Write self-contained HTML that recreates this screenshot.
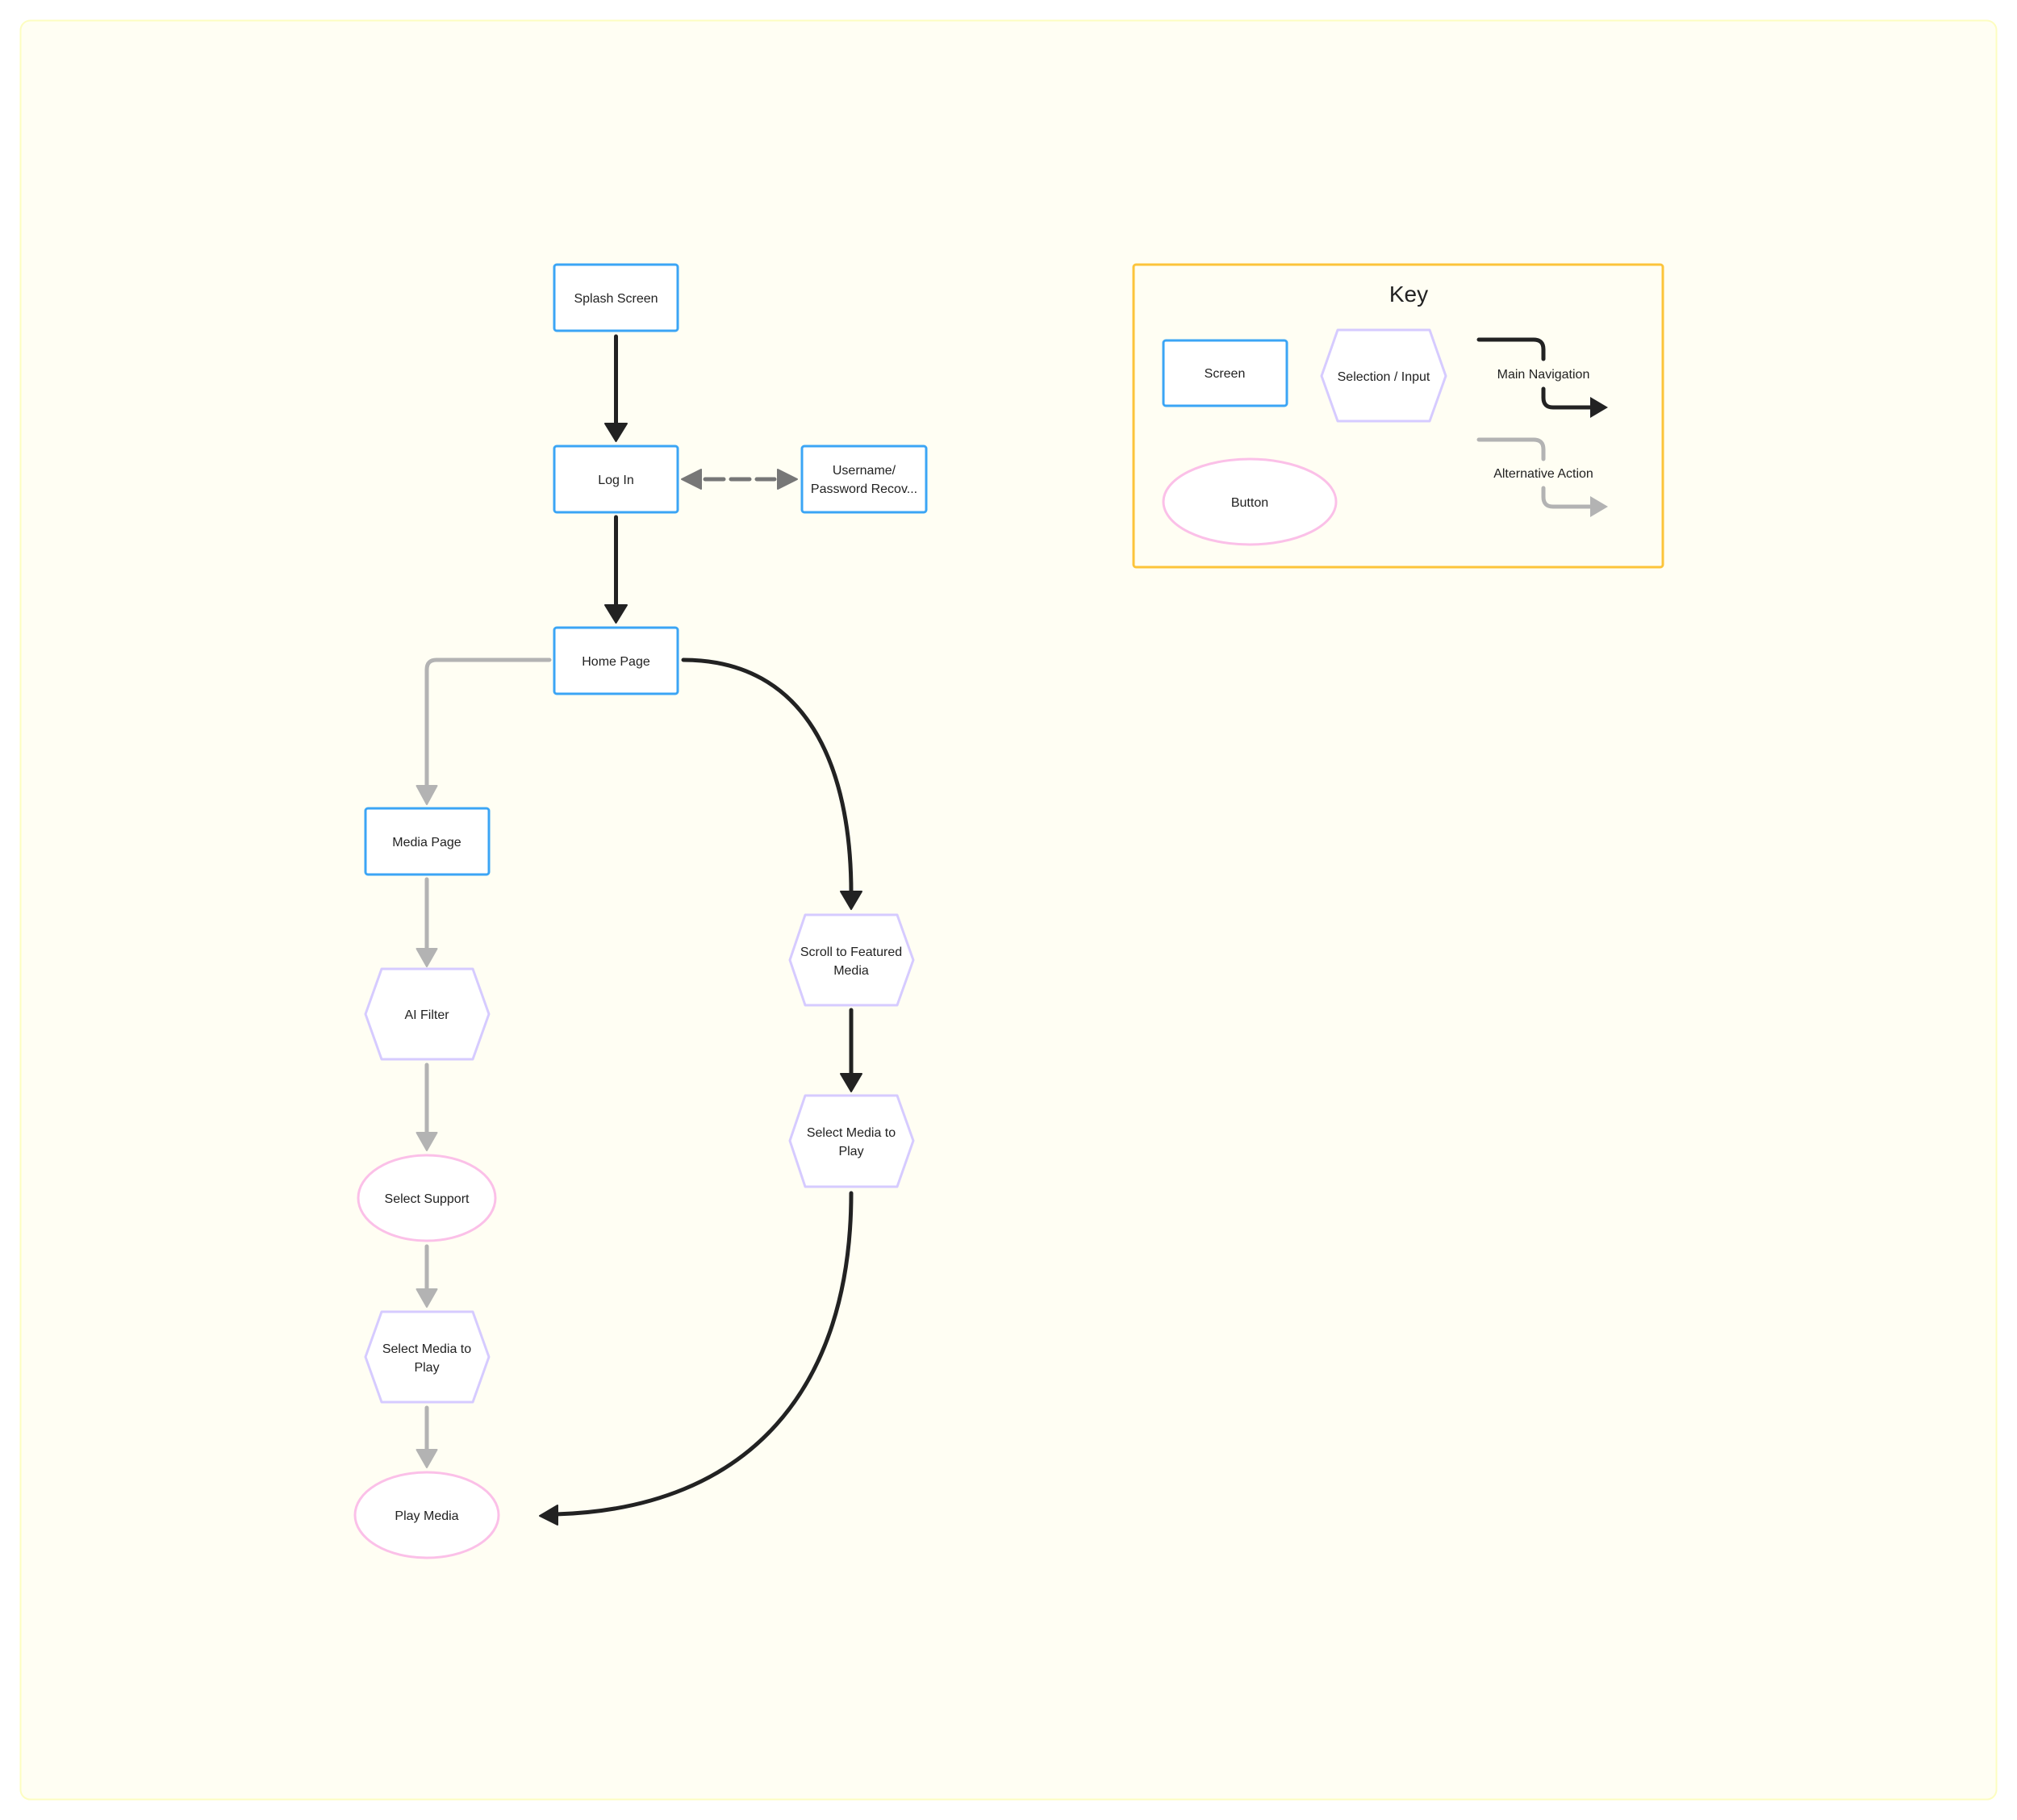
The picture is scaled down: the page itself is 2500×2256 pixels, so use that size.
<!DOCTYPE html>
<html><head><meta charset="utf-8"><style>
html,body{margin:0;padding:0;background:#fff;}
svg{display:block;}
text{font-family:"Liberation Sans",sans-serif;fill:#222;}
</style></head><body>
<svg width="2500" height="2256" viewBox="0 0 2500 2256" xmlns="http://www.w3.org/2000/svg">
<rect x="25.5" y="25.5" width="2449" height="2205" rx="12" fill="#fffef3" stroke="#fdfdc0" stroke-width="2"/>

<!-- Connectors -->
<g fill="none" stroke-linecap="round" stroke-linejoin="round">
  <line x1="763.5" y1="417" x2="763.5" y2="528" stroke="#222" stroke-width="5"/>
  <line x1="763.5" y1="641" x2="763.5" y2="752" stroke="#222" stroke-width="5"/>
  <line x1="874" y1="594" x2="960" y2="594" stroke="#777" stroke-width="5" stroke-dasharray="23 9"/>
  <path d="M681 818 L541 818 Q529 818 529 830 L529 976" stroke="#b3b3b3" stroke-width="5"/>
  <path d="M847 818 C1000 818 1055 950 1055 1107" stroke="#222" stroke-width="5"/>
  <line x1="529" y1="1090" x2="529" y2="1178" stroke="#b3b3b3" stroke-width="5"/>
  <line x1="529" y1="1320" x2="529" y2="1406" stroke="#b3b3b3" stroke-width="5"/>
  <line x1="529" y1="1545" x2="529" y2="1600" stroke="#b3b3b3" stroke-width="5"/>
  <line x1="529" y1="1745" x2="529" y2="1799" stroke="#b3b3b3" stroke-width="5"/>
  <line x1="1055" y1="1252" x2="1055" y2="1333" stroke="#222" stroke-width="5"/>
  <path d="M1055 1479 C1055 1720 930 1870 689 1877" stroke="#222" stroke-width="5"/>
</g>
<!-- Arrowheads -->
<g stroke-linejoin="round" stroke-width="2">
  <polygon points="750,525 777,525 763.5,547" fill="#222" stroke="#222"/>
  <polygon points="750,750 777,750 763.5,772" fill="#222" stroke="#222"/>
  <polygon points="869,582 869,606 845,594" fill="#777" stroke="#777"/>
  <polygon points="964,582 964,606 988,594" fill="#777" stroke="#777"/>
  <polygon points="516.5,974 541.5,974 529,997" fill="#b3b3b3" stroke="#b3b3b3"/>
  <polygon points="1042,1105 1068,1105 1055,1127" fill="#222" stroke="#222"/>
  <polygon points="516.5,1176 541.5,1176 529,1198" fill="#b3b3b3" stroke="#b3b3b3"/>
  <polygon points="516.5,1404 541.5,1404 529,1426" fill="#b3b3b3" stroke="#b3b3b3"/>
  <polygon points="516.5,1598 541.5,1598 529,1620" fill="#b3b3b3" stroke="#b3b3b3"/>
  <polygon points="516.5,1797 541.5,1797 529,1819" fill="#b3b3b3" stroke="#b3b3b3"/>
  <polygon points="1042,1331 1068,1331 1055,1353" fill="#222" stroke="#222"/>
  <polygon points="691,1866 691,1890 669,1879" fill="#222" stroke="#222"/>
</g>

<!-- Screens -->
<g fill="#fff" stroke="#3ba5f5" stroke-width="3">
  <rect x="687" y="328" width="153" height="82" rx="3"/>
  <rect x="687" y="553" width="153" height="82" rx="3"/>
  <rect x="994" y="553" width="154" height="82" rx="3"/>
  <rect x="687" y="778" width="153" height="82" rx="3"/>
  <rect x="453" y="1002" width="153" height="82" rx="3"/>
</g>
<!-- Hexagons -->
<g fill="#fff" stroke="#d6cbff" stroke-width="3" stroke-linejoin="round">
  <polygon points="473,1201 586,1201 606,1257 586,1313 473,1313 453,1257"/>
  <polygon points="473,1626 586,1626 606,1682 586,1738 473,1738 453,1682"/>
  <polygon points="998,1134 1112,1134 1132,1190 1112,1246 998,1246 979,1190"/>
  <polygon points="998,1358 1112,1358 1132,1414 1112,1471 998,1471 979,1414"/>
</g>
<!-- Ellipses -->
<g fill="#fff" stroke="#fbc0e8" stroke-width="3">
  <ellipse cx="529" cy="1485" rx="85" ry="53"/>
  <ellipse cx="529" cy="1878" rx="89" ry="53"/>
</g>

<g font-size="16" text-anchor="middle">
  <text x="763.5" y="375">Splash Screen</text>
  <text x="763.5" y="600">Log In</text>
  <text x="1071" y="588">Username/</text>
  <text x="1071" y="611">Password Recov...</text>
  <text x="763.5" y="825">Home Page</text>
  <text x="529" y="1049">Media Page</text>
  <text x="529" y="1263">AI Filter</text>
  <text x="529" y="1491">Select Support</text>
  <text x="529" y="1677">Select Media to</text>
  <text x="529" y="1700">Play</text>
  <text x="529" y="1884">Play Media</text>
  <text x="1055" y="1185">Scroll to Featured</text>
  <text x="1055" y="1208">Media</text>
  <text x="1055" y="1409">Select Media to</text>
  <text x="1055" y="1432">Play</text>
</g>

<!-- Key -->
<rect x="1405" y="328" width="656" height="375" rx="3" fill="none" stroke="#fcc43a" stroke-width="3"/>
<text x="1746" y="374" font-size="28" text-anchor="middle">Key</text>
<rect x="1442" y="422" width="153" height="81" rx="3" fill="#fff" stroke="#3ba5f5" stroke-width="3"/>
<text x="1518" y="468" font-size="16" text-anchor="middle">Screen</text>
<polygon points="1658,409 1772,409 1792,466 1772,522 1658,522 1638,466" fill="#fff" stroke="#d6cbff" stroke-width="3" stroke-linejoin="round"/>
<text x="1715" y="472" font-size="16" text-anchor="middle">Selection / Input</text>
<ellipse cx="1549" cy="622" rx="107" ry="53" fill="#fff" stroke="#fbc0e8" stroke-width="3"/>
<text x="1549" y="628" font-size="16" text-anchor="middle">Button</text>
<g fill="none" stroke-linecap="round" stroke-width="5">
  <path d="M1833 421 L1901 421 Q1913 421 1913 433 L1913 445" stroke="#222"/>
  <path d="M1913 482 L1913 493 Q1913 505 1925 505 L1975 505" stroke="#222"/>
  <path d="M1833 545 L1901 545 Q1913 545 1913 557 L1913 569" stroke="#b3b3b3"/>
  <path d="M1913 605 L1913 616 Q1913 628 1925 628 L1975 628" stroke="#b3b3b3"/>
</g>
<polygon points="1971,492 1971,518 1993,505" fill="#222"/>
<polygon points="1971,615 1971,641 1993,628" fill="#b3b3b3"/>
<text x="1913" y="469" font-size="16" text-anchor="middle">Main Navigation</text>
<text x="1913" y="592" font-size="16" text-anchor="middle">Alternative Action</text>
</svg>
</body></html>
